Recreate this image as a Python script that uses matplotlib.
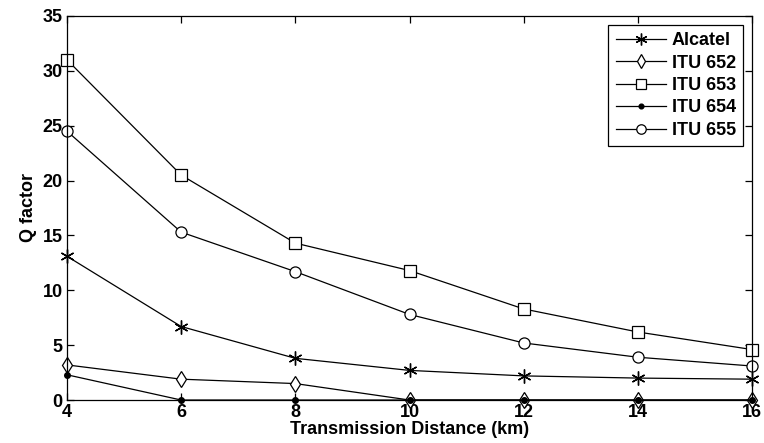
import matplotlib
matplotlib.use("Agg")
import matplotlib.pyplot as plt

plt.rcParams['font.family'] = ['Liberation Sans', 'DejaVu Sans']
plt.rcParams['font.weight'] = 'bold'

distance = [4, 6, 8, 10, 12, 14, 16]
alcatel = [13.1, 6.7, 3.8, 2.7, 2.2, 2.0, 1.9]
itu652 = [3.2, 1.9, 1.5, 0, 0, 0, 0]
itu653 = [31.0, 20.5, 14.3, 11.8, 8.3, 6.2, 4.6]
itu654 = [2.3, 0, 0, 0, 0, 0, 0]
itu655 = [24.5, 15.3, 11.7, 7.8, 5.2, 3.9, 3.1]

fig = plt.figure(figsize=(7.64, 4.43), dpi=100)
ax = fig.add_axes([0.0877, 0.097, 0.8966, 0.867])

kw = dict(color='black', linewidth=0.9, markerfacecolor='white', markeredgecolor='black', clip_on=False)
ax.plot(distance, alcatel, marker=(6, 2, 0), markersize=10, label='Alcatel', **kw)
ax.plot(distance, itu652, marker='d', markersize=8, markeredgewidth=0.9, label='ITU 652', **kw)
ax.plot(distance, itu653, marker='s', markersize=8, markeredgewidth=0.9, label='ITU 653', **kw)
ax.plot(distance, itu654, marker='o', markersize=4, markerfacecolor='black', markeredgecolor='black',
        color='black', linewidth=0.9, label='ITU 654', clip_on=False)
ax.plot(distance, itu655, marker='o', markersize=8, markeredgewidth=0.9, label='ITU 655', **kw)

ax.set_xlim(4, 16)
ax.set_ylim(0, 35)
ax.set_xticks(distance)
ax.set_yticks(range(0, 36, 5))
ax.tick_params(direction='in', top=True, right=True, length=5, labelsize=13, width=0.9, pad=3)
for s in ax.spines.values():
    s.set_linewidth(0.9)

ax.set_xlabel('Transmission Distance (km)', fontsize=13, fontweight='bold', labelpad=0)
ax.set_ylabel('Q factor', fontsize=13, fontweight='bold', labelpad=4)

leg = ax.legend(loc='upper right', fontsize=13, fancybox=False, edgecolor='black',
                framealpha=1, handlelength=2.8, borderaxespad=0.5, labelspacing=0.3,
                handletextpad=0.3, markerscale=0.85)
leg.get_frame().set_linewidth(0.9)

fig.savefig('out.png', dpi=100)
